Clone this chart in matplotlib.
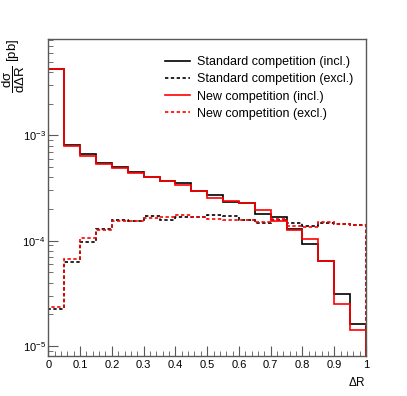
import numpy as np
import matplotlib
matplotlib.use('Agg')
import matplotlib.pyplot as plt
from matplotlib.ticker import MultipleLocator, LogLocator, NullFormatter

plt.rcParams['font.family'] = ['Liberation Sans', 'DejaVu Sans']
plt.rcParams['mathtext.fontset'] = 'custom'
plt.rcParams['mathtext.rm'] = 'Liberation Sans'
plt.rcParams['mathtext.it'] = 'Liberation Sans'
plt.rcParams['mathtext.bf'] = 'Liberation Sans:bold'

# bin edges in Delta R
edges = np.linspace(0, 1, 21)

# cross sections per bin [pb]
std_incl = [4.26e-3, 8.14e-4, 6.60e-4, 5.50e-4, 5.04e-4, 4.49e-4, 4.05e-4, 3.70e-4,
            3.51e-4, 2.93e-4, 2.73e-4, 2.33e-4, 2.28e-4, 1.78e-4, 1.69e-4, 1.29e-4,
            9.3e-5, 6.46e-5, 3.1e-5, 1.61e-5]
std_excl = [2.25e-5, 6.32e-5, 9.73e-5, 1.28e-4, 1.57e-4, 1.53e-4, 1.70e-4, 1.57e-4,
            1.69e-4, 1.69e-4, 1.75e-4, 1.73e-4, 1.58e-4, 1.48e-4, 1.57e-4, 1.48e-4,
            1.38e-4, 1.46e-4, 1.44e-4, 1.42e-4]
new_incl = [4.26e-3, 7.87e-4, 6.37e-4, 5.34e-4, 4.93e-4, 4.36e-4, 4.05e-4, 3.70e-4,
            3.38e-4, 2.98e-4, 2.52e-4, 2.37e-4, 2.29e-4, 1.97e-4, 1.53e-4, 1.26e-4,
            1.03e-4, 6.46e-5, 2.5e-5, 1.42e-5]
new_excl = [2.35e-5, 6.75e-5, 1.055e-4, 1.26e-4, 1.55e-4, 1.53e-4, 1.64e-4, 1.69e-4,
            1.75e-4, 1.68e-4, 1.62e-4, 1.56e-4, 1.56e-4, 1.50e-4, 1.61e-4, 1.38e-4,
            1.36e-4, 1.50e-4, 1.44e-4, 1.40e-4]

labels = ['Standard competition (incl.)', 'Standard competition (excl.)',
          'New competition (incl.)', 'New competition (excl.)']

fig = plt.figure(figsize=(4.07, 3.96), dpi=100)
ax = fig.add_axes([0.1187, 0.101, 0.7806, 0.8005])

dash = (0, (2, 1.5))
ax.stairs(std_incl, edges, color='black', lw=1.2, label=labels[0])
ax.stairs(std_excl, edges, color='black', lw=1.2, ls=dash, label=labels[1])
ax.stairs(new_incl, edges, color='#ff0000', lw=1.2, label=labels[2])
ax.stairs(new_excl, edges, color='#ff0000', lw=1.2, ls=dash, label=labels[3])

ax.set_yscale('log')
ax.set_xlim(0, 1)
ax.set_ylim(8.04e-6, 8.2e-3)

ax.set_xticks(np.linspace(0, 1, 11))
ax.set_xticklabels(['0', '0.1', '0.2', '0.3', '0.4', '0.5', '0.6', '0.7', '0.8', '0.9', '1'])
ax.xaxis.set_minor_locator(MultipleLocator(0.02))
ax.yaxis.set_major_locator(LogLocator(base=10))
ax.yaxis.set_minor_locator(LogLocator(base=10, subs=np.arange(2, 10)))
ax.yaxis.set_minor_formatter(NullFormatter())

ax.tick_params(which='both', direction='in', top=False, right=False,
               labelsize=8, color='0.35')
ax.tick_params(axis='x', which='major', length=7, pad=3)
ax.tick_params(axis='x', which='minor', length=3.5)
ax.tick_params(axis='y', which='major', length=7.5, pad=2)
ax.tick_params(axis='y', which='minor', length=3.8)
for s in ax.spines.values():
    s.set_color('0.35')
    s.set_linewidth(1.0)

ax.set_xlabel(r'$\Delta$R', fontsize=8.5, loc='right', labelpad=4)
# y title sits at the top-left corner, outside the frame
fig.text(14 / 407, 1 - 39 / 396, r'$\dfrac{d\sigma}{d\Delta R}$ [pb]', fontsize=9.5,
         rotation=90, ha='center', va='top')

ax.legend(loc='upper left', bbox_to_anchor=(0.367, 0.946), frameon=False,
          fontsize=9, handlelength=2.0, handletextpad=0.55, labelspacing=0.42,
          borderpad=0, borderaxespad=0)

fig.savefig('out.png', dpi=100)
